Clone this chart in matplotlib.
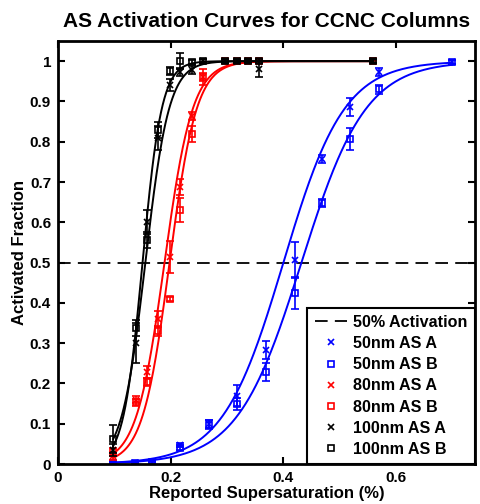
import matplotlib
matplotlib.use("Agg")
import matplotlib.pyplot as plt
import numpy as np

plt.rcParams['font.family'] = ['Liberation Sans', 'DejaVu Sans']
plt.rcParams['font.weight'] = 'bold'

# --- data ---
ss_small = [0.098, 0.138, 0.158, 0.177, 0.198, 0.217, 0.238, 0.257, 0.297, 0.317, 0.337, 0.357, 0.559]
ss_50 = [0.097, 0.1375, 0.167, 0.217, 0.268, 0.318, 0.369, 0.42, 0.469, 0.519, 0.57, 0.70]

frac_50A = [0.003, 0.003, 0.005, 0.047, 0.100, 0.170, 0.283, 0.506, 0.757, 0.887, 0.973, 0.998]
err_50A = [0.003, 0.003, 0.003, 0.006, 0.010, 0.025, 0.022, 0.045, 0.010, 0.022, 0.010, 0.005]
frac_50B = [0.002, 0.002, 0.004, 0.040, 0.098, 0.149, 0.228, 0.425, 0.647, 0.806, 0.930, 0.998]
err_50B = [0.003, 0.003, 0.003, 0.006, 0.012, 0.015, 0.023, 0.040, 0.010, 0.027, 0.012, 0.005]

frac_80A = [0.020, 0.160, 0.229, 0.360, 0.514, 0.688, 0.864, 0.960, 1.0, 1.0, 1.0, 1.0, 1.0]
err_80A = [0.010, 0.008, 0.015, 0.020, 0.040, 0.020, 0.010, 0.010, 0.004, 0.004, 0.004, 0.004, 0.004]
frac_80B = [0.030, 0.153, 0.204, 0.330, 0.410, 0.630, 0.820, 0.961, 1.0, 1.0, 1.0, 1.0, 1.0]
err_80B = [0.010, 0.008, 0.010, 0.012, 0.005, 0.030, 0.020, 0.020, 0.004, 0.004, 0.004, 0.004, 0.004]

frac_100A = [0.035, 0.300, 0.600, 0.810, 0.940, 0.973, 0.978, 1.0, 1.0, 1.0, 1.0, 0.980, 1.0]
err_100A = [0.015, 0.050, 0.030, 0.030, 0.015, 0.010, 0.010, 0.005, 0.005, 0.005, 0.005, 0.020, 0.005]
frac_100B = [0.062, 0.337, 0.556, 0.830, 0.975, 1.0, 0.998, 1.0, 1.0, 1.0, 1.0, 1.0, 1.0]
err_100B = [0.035, 0.020, 0.020, 0.020, 0.010, 0.020, 0.005, 0.005, 0.005, 0.005, 0.005, 0.005, 0.005]

# sigmoid fit parameters (center, width)
fit_50A = (0.400, 0.054)
fit_50B = (0.432, 0.057)
fit_80A = (0.189, 0.025)
fit_80B = (0.198, 0.024)
fit_100A = (0.155, 0.021)
fit_100B = (0.150, 0.017)


def sigmoid(x, p):
    return 1.0 / (1.0 + np.exp(-(x - p[0]) / p[1]))


fig = plt.figure(figsize=(4.8, 5.04), dpi=100)
ax = fig.add_axes([58/480, 1-464/504, (475-58)/480, (464-41)/504])

h_dash = ax.axhline(0.5, color='k', ls=(0, (7, 4)), lw=1.3, label='50% Activation')

series = [
    (ss_50, frac_50A, err_50A, 'b', 'x', '50nm AS A'),
    (ss_50, frac_50B, err_50B, 'b', 's', '50nm AS B'),
    (ss_small, frac_80A, err_80A, 'r', 'x', '80nm AS A'),
    (ss_small, frac_80B, err_80B, 'r', 's', '80nm AS B'),
    (ss_small, frac_100A, err_100A, 'k', 'x', '100nm AS A'),
    (ss_small, frac_100B, err_100B, 'k', 's', '100nm AS B'),
]
fits = [fit_50A, fit_50B, fit_80A, fit_80B, fit_100A, fit_100B]

handles = [h_dash]
for (xs, ys, es, c, m, lab), p in zip(series, fits):
    ax.errorbar(xs, ys, yerr=es, fmt='none', ecolor=c, elinewidth=1.2, capsize=3, capthick=1.2)
    h, = ax.plot(xs, ys, ls='none', marker=m, color=c, mfc='none', mec=c,
                 ms=5 if m == 's' else 4.5, mew=1.2, label=lab)
    handles.append(h)
    xx = np.linspace(min(xs), max(xs), 300)
    ax.plot(xx, sigmoid(xx, p), color=c, lw=1.4)

ax.set_xlim(0, 0.74)
ax.set_ylim(0, 1.05)
ax.set_xticks([0, 0.2, 0.4, 0.6])
ax.set_xticklabels(['0', '0.2', '0.4', '0.6'])
ax.set_yticks(np.arange(0, 1.01, 0.1))
ax.set_yticklabels(['0', '0.1', '0.2', '0.3', '0.4', '0.5', '0.6', '0.7', '0.8', '0.9', '1'])
ax.tick_params(direction='in', length=5, width=1.5, top=True, right=True, labelsize=11, pad=5)
for s in ax.spines.values():
    s.set_linewidth(2)

ax.set_title('AS Activation Curves for CCNC Columns', fontsize=15, fontweight='bold', pad=10)
ax.set_xlabel('Reported Supersaturation (%)', fontsize=12, fontweight='bold', labelpad=1)
ax.set_ylabel('Activated Fraction', fontsize=12, fontweight='bold', labelpad=2)

leg = ax.legend(handles=handles, loc='lower right', borderaxespad=0, fancybox=False,
                edgecolor='k', framealpha=1, fontsize=11.6, handlelength=2.0,
                handletextpad=0.4, labelspacing=0.38, borderpad=0.45)
leg.get_frame().set_linewidth(1.5)

fig.savefig('out.png', dpi=100)
